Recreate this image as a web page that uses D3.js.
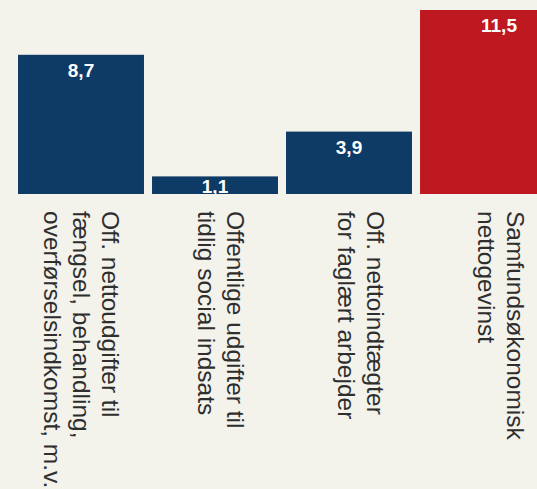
<!DOCTYPE html>
<html lang="da">
<head>
<meta charset="utf-8">
<script src="https://cdn.jsdelivr.net/npm/d3@7"></script>
<style>
  html, body { margin: 0; padding: 0; background: #f3f2eb; overflow: hidden; }
  svg { display: block; }
</style>
</head>
<body>
<div id="chart"></div>
<script>
// Samfundsøkonomisk regnskab (mia. kr.)
const categories = ["udgifter", "indsats", "arbejde", "gevinst"];
const labelLines = [
  ["Off. nettoudgifter til", "fængsel, behandling,", "overførselsindkomst, m.v."],
  ["Offentlige udgifter til", "tidlig social indsats"],
  ["Off. nettoindtægter", "for faglært arbejder"],
  ["Samfundsøkonomisk", "nettogevinst"]
];
const values = [8.7, 1.1, 3.9, 11.5];
const valueLabels = ["8,7", "1,1", "3,9", "11,5"];
const highlighted = "gevinst";

const W = 578, H = 489;          // plot runs a little past the visible frame
const baseY = 194;
const colors = { normal: "#0e3a66", highlight: "#be1920" };

const svg = d3.select("#chart").append("svg")
  .attr("width", W).attr("height", H);

svg.append("rect").attr("width", W).attr("height", H).attr("fill", "#f3f2eb");

const x = d3.scaleBand().domain(categories).range([14, 550])
  .paddingInner(0.06).paddingOuter(0.03);
// label columns are spread evenly over the full plot width
const xLabel = d3.scaleBand().domain(categories).range([11, 571]);
const y = d3.scaleLinear().domain([0, 12]).range([baseY, 2]);

const data = categories.map((c, i) => ({
  cat: c, value: values[i], text: valueLabels[i], lines: labelLines[i]
}));

// the highlighted total bar runs out to the right edge of the plot
const barX0 = d => x(d.cat);
const barX1 = d => d.cat === highlighted ? W : x(d.cat) + x.bandwidth();

svg.append("g").selectAll("rect").data(data).join("rect")
  .attr("x", barX0)
  .attr("y", d => y(d.value))
  .attr("width", d => barX1(d) - barX0(d))
  .attr("height", d => y(0) - y(d.value))
  .attr("fill", d => d.cat === highlighted ? colors.highlight : colors.normal);

svg.append("g").selectAll("text").data(data).join("text")
  .attr("x", d => (barX0(d) + barX1(d)) / 2)
  .attr("y", d => Math.min(y(d.value) + 22, y(0) - 1))
  .attr("text-anchor", "middle")
  .attr("fill", "#ffffff")
  .style("font-family", "'Liberation Sans', Arial, sans-serif")
  .style("font-weight", "bold")
  .style("font-size", "19px")
  .text(d => d.text);

// category labels, rotated to read top-down
const lineGap = 29;
const labels = svg.append("g").selectAll("g").data(data).join("g")
  .attr("transform", d => `translate(${xLabel(d.cat) + xLabel.bandwidth() / 2},211) rotate(90)`);

labels.each(function(d) {
  const n = d.lines.length;
  d3.select(this).selectAll("text").data(d.lines).join("text")
    .attr("x", 0)
    .attr("y", (t, i) => (i - (n - 1) / 2) * lineGap + 8.5)
    .attr("fill", "#2e2e2e")
    .style("font-family", "'Liberation Sans', Arial, sans-serif")
    .style("font-size", "24.5px")
    .text(t => t);
});
</script>
</body>
</html>
